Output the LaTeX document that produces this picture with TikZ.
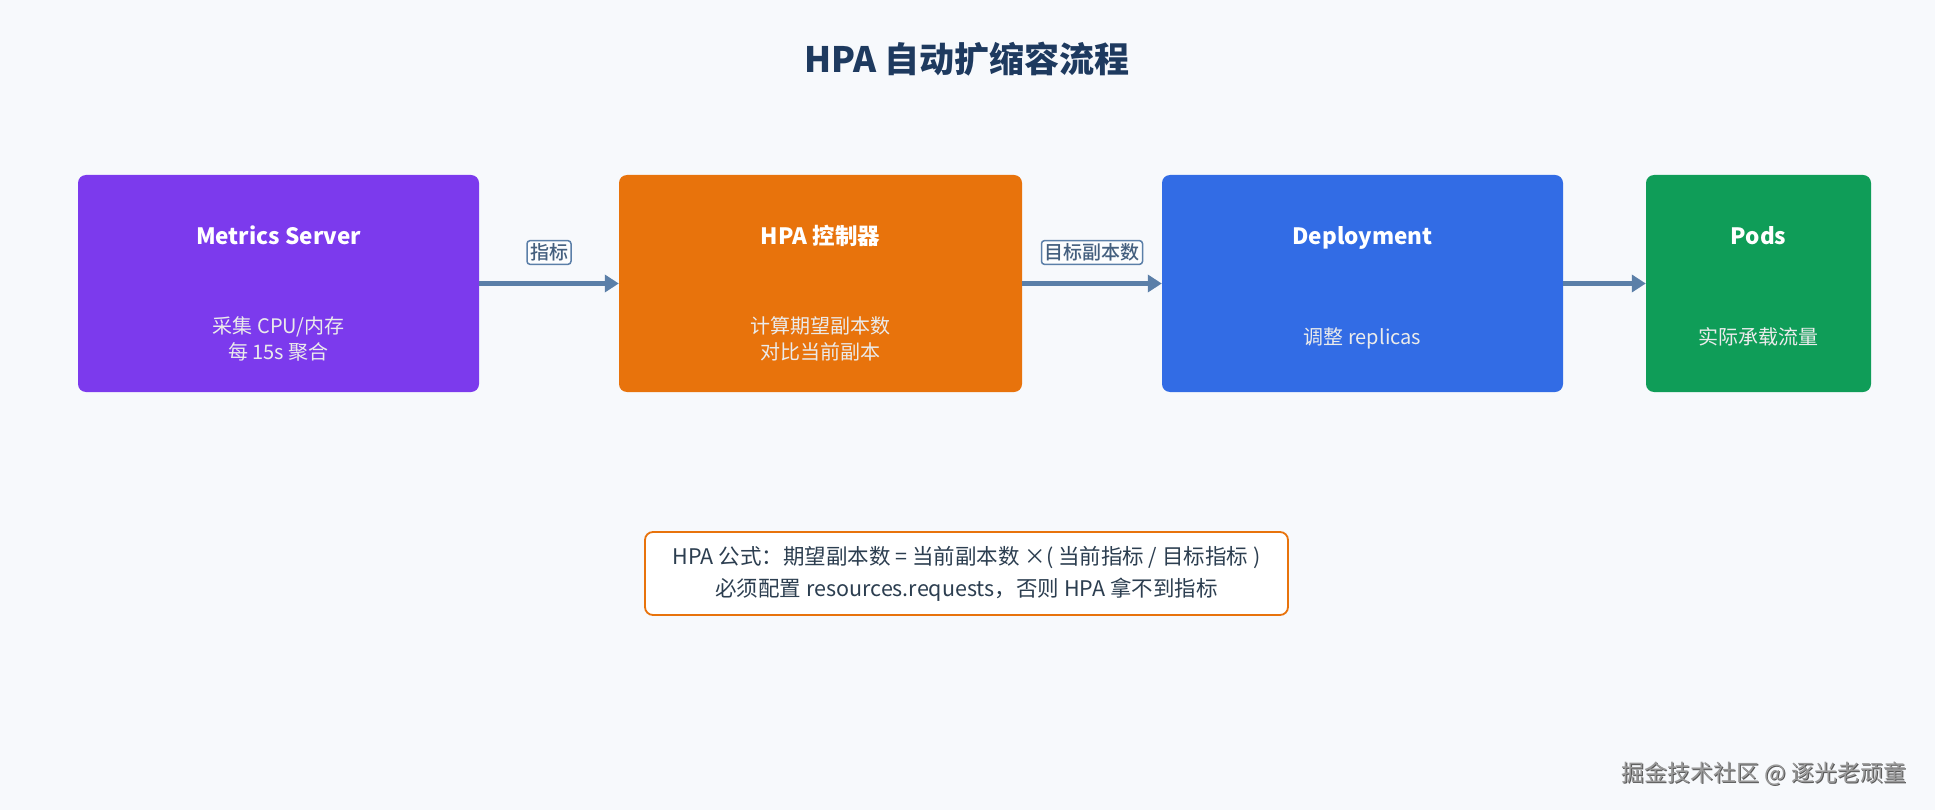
\documentclass[tikz,border=0pt]{standalone}
\usepackage{fontspec}
\setmainfont{Noto Sans CJK SC}
\newfontfamily\mediumcjk{Noto Sans CJK SC Medium}
\usetikzlibrary{arrows.meta}

\definecolor{pagebg}{HTML}{F7F9FC}
\definecolor{titleblue}{HTML}{1E3A5F}
\definecolor{metricsviolet}{HTML}{7C3AED}
\definecolor{hpaorange}{HTML}{E8730C}
\definecolor{deployblue}{HTML}{326CE5}
\definecolor{podsgreen}{HTML}{0F9D58}
\definecolor{flowsteel}{HTML}{5B7FA8}
\definecolor{notetext}{HTML}{2C3E50}

\begin{document}
\begin{tikzpicture}[x=1pt,y=-1pt,
    stage/.style={rounded corners=8pt, minimum height=217pt, inner sep=0pt},
    stagehead/.style={anchor=base, text=white, font=\fontsize{22.5}{28}\selectfont\bfseries},
    stagebody/.style={anchor=base, text=white!92!black, align=center, font=\fontsize{20}{26}\selectfont},
    flow/.style={draw=flowsteel, line width=4.2pt, -{Triangle[length=14pt,width=17pt]}},
    flowtag/.style={draw=flowsteel, fill=white!60!pagebg, text=flowsteel!75!black, line width=1.5pt,
      rounded corners=3pt, inner sep=3pt, font=\fontsize{19}{21}\selectfont\mediumcjk}]

  % Page
  \useasboundingbox (0,0) rectangle (1935,810);
  \fill[pagebg] (0,0) rectangle (1935,810);

  % Title
  \node[anchor=base, text=titleblue, font=\fontsize{35}{40}\selectfont\bfseries] (title) at (967,73) {HPA 自动扩缩容流程};

  % Stages
  \node[stage, fill=metricsviolet, minimum width=401pt] (metrics) at (278.5,283.5) {};
  \node[stage, fill=hpaorange, minimum width=403pt] (hpa) at (820.5,283.5) {};
  \node[stage, fill=deployblue, minimum width=401pt] (deploy) at (1362.5,283.5) {};
  \node[stage, fill=podsgreen, minimum width=225pt] (pods) at (1758.5,283.5) {};

  \node[stagehead] (metricshead) at (278.5,245) {Metrics Server};
  \node[stagebody] (metricsbody) at (278.5,359) {采集 CPU/内存\\每 15s 聚合};

  \node[stagehead] (hpahead) at (820.5,245) {HPA 控制器};
  \node[stagebody] (hpabody) at (820.5,359) {计算期望副本数\\对比当前副本};

  \node[stagehead] (deployhead) at (1362.5,245) {Deployment};
  \node[stagebody] (deploybody) at (1362.5,344) {调整 replicas};

  \node[stagehead] (podshead) at (1758.5,245) {Pods};
  \node[stagebody] (podsbody) at (1758.5,344) {实际承载流量};

  % Flow
  \draw[flow] (metrics) -- node[flowtag, yshift=31pt] (tagmetric) {指标} (hpa);
  \draw[flow] (hpa) -- node[flowtag, yshift=31pt] (tagtarget) {目标副本数} (deploy);
  \draw[flow] (deploy) -- (pods);

  % Formula note
  \node[draw=hpaorange, fill=white, line width=1.8pt, rounded corners=8pt,
    minimum width=643pt, minimum height=83pt, align=center, text=notetext,
    font=\fontsize{21.5}{32}\selectfont] (formula) at (966.5,573.5)
    {HPA 公式：期望副本数 = 当前副本数 ×( 当前指标 / 目标指标 )\\必须配置 resources.requests，否则 HPA 拿不到指标};

  % Watermark
  \node[anchor=east, text=black!65, font=\fontsize{23}{26}\selectfont] (creditshadow) at (1911,775) {掘金技术社区 @ 逐光老顽童};
  \node[anchor=east, text=black!40, font=\fontsize{23}{26}\selectfont] (credit) at (1910,774) {掘金技术社区 @ 逐光老顽童};
\end{tikzpicture}
\end{document}
